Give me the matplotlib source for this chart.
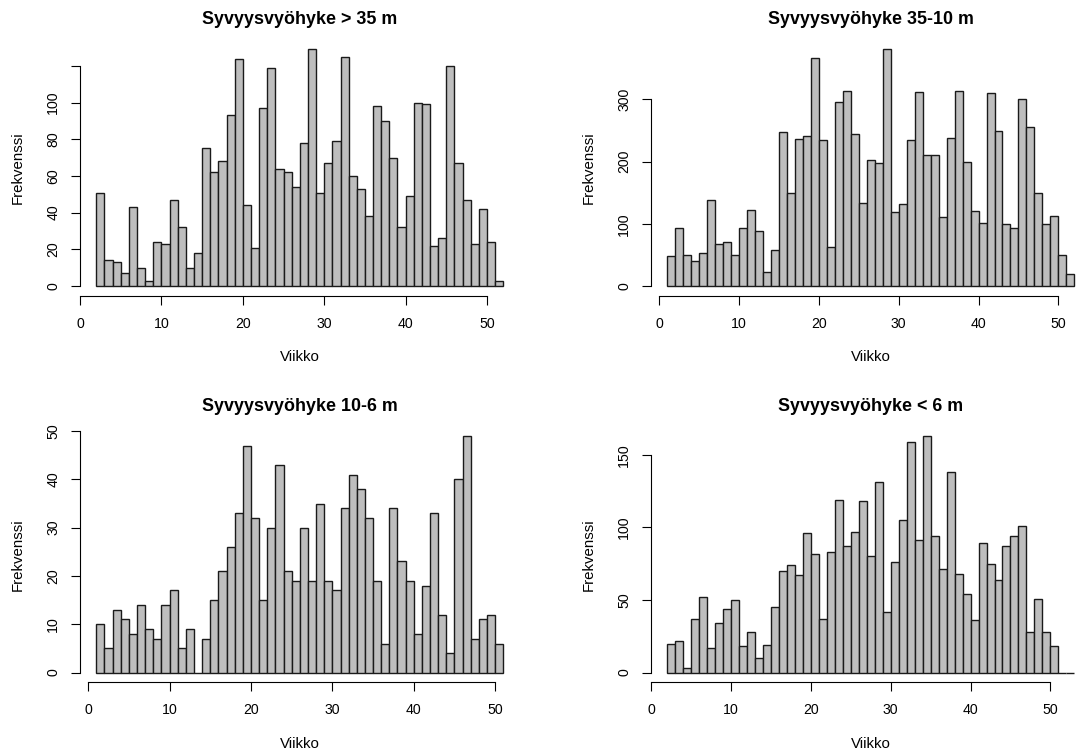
import matplotlib
matplotlib.use("Agg")
import matplotlib.pyplot as plt
import numpy as np

plt.rcParams['font.family'] = ['Liberation Sans', 'DejaVu Sans']

# weekly counts per depth zone (bin width 1 week, first bin starts at start_*)
otsikot = ["Syvyysvyöhyke > 35 m", "Syvyysvyöhyke 35-10 m",
           "Syvyysvyöhyke 10-6 m", "Syvyysvyöhyke < 6 m"]

start_1 = 2
frekv_1 = [51, 14, 13, 7, 43, 10, 3, 24, 23, 47, 32, 10, 18, 75, 62, 68, 93, 124, 44, 21,
           97, 119, 64, 62, 54, 78, 129, 51, 67, 79, 125, 60, 53, 38, 98, 90, 70, 32, 49, 100,
           99, 22, 26, 120, 67, 47, 23, 42, 24, 3]

start_2 = 1
frekv_2 = [48, 93, 50, 40, 53, 139, 68, 71, 50, 93, 122, 88, 22, 58, 248, 150, 236, 241, 366, 235,
           63, 296, 314, 245, 133, 203, 198, 380, 119, 132, 235, 312, 211, 210, 111, 238, 313, 200, 120, 101,
           310, 249, 100, 93, 300, 255, 150, 99, 113, 50, 19]

start_3 = 1
frekv_3 = [10, 5, 13, 11, 8, 14, 9, 7, 14, 17, 5, 9, 0, 7, 15, 21, 26, 33, 47, 32,
           15, 30, 43, 21, 19, 30, 19, 35, 19, 17, 34, 41, 38, 32, 19, 6, 34, 23, 19, 8,
           18, 33, 12, 4, 40, 49, 7, 11, 12, 6]

start_4 = 2
frekv_4 = [20, 22, 3, 37, 52, 17, 34, 44, 50, 18, 28, 10, 19, 45, 70, 74, 67, 96, 82, 37,
           83, 119, 87, 97, 118, 80, 131, 42, 76, 105, 159, 91, 163, 94, 71, 138, 68, 54, 36, 89,
           75, 64, 87, 94, 101, 28, 51, 28, 18, 0, 0]

x_ticks = [0, 10, 20, 30, 40, 50]
y_ticks = [[0, 20, 40, 60, 80, 100, 120], [0, 100, 200, 300], [0, 10, 20, 30, 40, 50], [0, 50, 100, 150]]
y_labels = [["0", "20", "40", "60", "80", "100", ""], None, None, None]

W, H = 1077, 754
fig = plt.figure(figsize=(W / 100, H / 100), dpi=100)

# plot regions in pixels (R mfrow layout, right side cropped)
lefts = [80, 651]
tops = [40, 426.5]
pw, ph = 439.6, 255.5

panels = [(start_1, frekv_1), (start_2, frekv_2), (start_3, frekv_3), (start_4, frekv_4)]

for i, (start, counts) in enumerate(panels):
    r, c = divmod(i, 2)
    L, T = lefts[c], tops[r]
    ax = fig.add_axes([L / W, 1 - (T + ph) / H, pw / W, ph / H])
    ax.patch.set_visible(False)
    edges = np.arange(start, start + len(counts) + 1)
    ax.bar(edges[:-1], counts, width=1, align='edge', color='#BEBEBE',
           edgecolor='#1a1a1a', linewidth=1.0, clip_on=False)
    x0, x1 = edges[0], edges[-1]
    dx = 0.04 * (x1 - x0)
    ymax = max(counts)
    ax.set_xlim(x0 - dx, x1 + dx)
    ax.set_ylim(-0.04 * ymax, 1.04 * ymax)

    for s in ['top', 'right']:
        ax.spines[s].set_visible(False)
    ax.spines['bottom'].set_bounds(x_ticks[0], x_ticks[-1])
    ax.spines['left'].set_bounds(y_ticks[i][0], y_ticks[i][-1])
    for s in ['bottom', 'left']:
        ax.spines[s].set_linewidth(0.8)
    ax.set_xticks(x_ticks)
    ax.set_yticks(y_ticks[i])
    if y_labels[i] is not None:
        ax.set_yticklabels(y_labels[i])
    ax.tick_params(axis='both', direction='out', length=6.2, width=0.8, labelsize=10.2)
    ax.tick_params(axis='x', pad=9.0)
    ax.tick_params(axis='y', pad=8.0)
    plt.setp(ax.get_yticklabels(), rotation=90, va='center')

    cx = (L + pw / 2) / W
    fig.text(cx, 1 - (T - 20) / H, otsikot[i], ha='center', va='center',
             fontsize=12.9, fontweight='bold')
    fig.text(cx, 1 - (T + ph + 61.5) / H, "Viikko", ha='center', va='center', fontsize=10.8)
    fig.text((L - 62) / W, 1 - (T + ph / 2) / H, "Frekvenssi", ha='center', va='center',
             rotation=90, fontsize=10.8)

fig.savefig("out.png", dpi=100)
